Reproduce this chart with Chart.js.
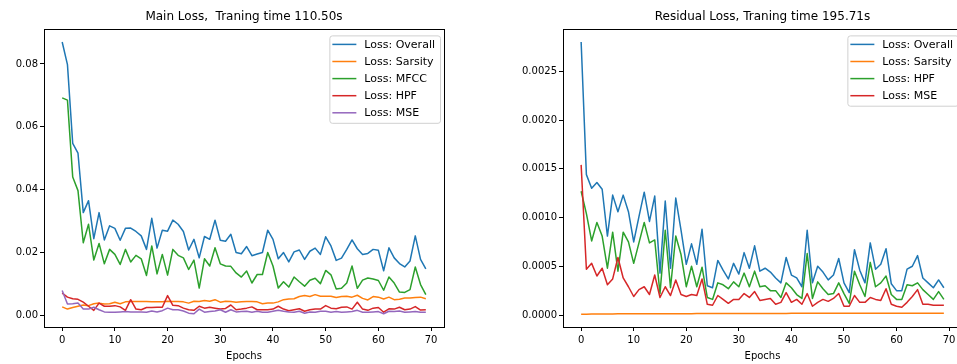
<!DOCTYPE html>
<html>
<head>
<meta charset="utf-8">
<script src="https://cdn.jsdelivr.net/npm/chart.js@4.4.1/dist/chart.umd.min.js"></script>
<style>
  html, body { margin: 0; padding: 0; background: #fff; overflow: hidden; }
  #wrap { position: relative; width: 957px; height: 364px; overflow: hidden; }
  canvas { position: absolute; top: 0; }
  #mainChart { left: 0; }
  #residualChart { left: 500px; }
</style>
</head>
<body>
<div id="wrap">
  <canvas id="mainChart" width="460" height="364"></canvas>
  <canvas id="residualChart" width="480" height="364"></canvas>
</div>
<script>
/* ---------- DATA ---------- */
const epochs = [0,1,2,3,4,5,6,7,8,9,10,11,12,13,14,15,16,17,18,19,20,21,22,23,24,25,26,27,28,29,
  30,31,32,33,34,35,36,37,38,39,40,41,42,43,44,45,46,47,48,49,50,51,52,53,54,55,56,57,58,59,
  60,61,62,63,64,65,66,67,68,69];
const xTicks = [0, 10, 20, 30, 40, 50, 60, 70];

// Main loss
const mainOverall = [0.0870,0.0798,0.0547,0.0516,0.0327,0.0365,0.0244,0.0327,0.0240,0.0285,
  0.0277,0.0239,0.0277,0.0278,0.0267,0.0253,0.0210,0.0309,0.0214,0.0271,
  0.0268,0.0303,0.0290,0.0267,0.0208,0.0242,0.0183,0.0251,0.0242,0.0303,
  0.0239,0.0236,0.0258,0.0200,0.0196,0.0219,0.0190,0.0195,0.0200,0.0271,
  0.0242,0.0180,0.0200,0.0170,0.0202,0.0208,0.0178,0.0204,0.0214,0.0194,
  0.0250,0.0221,0.0175,0.0182,0.0210,0.0240,0.0212,0.0194,0.0197,0.0210,
  0.0207,0.0142,0.0215,0.0183,0.0165,0.0154,0.0173,0.0253,0.0178,0.0148];
const mainSarsity = [0.0027,0.0020,0.0025,0.0029,0.0033,0.0031,0.0037,0.0039,0.0036,0.0037,
  0.0042,0.0037,0.0043,0.0044,0.0044,0.0044,0.0044,0.0043,0.0043,0.0043,
  0.0045,0.0044,0.0044,0.0043,0.0039,0.0045,0.0044,0.0047,0.0045,0.0050,
  0.0042,0.0045,0.0044,0.0042,0.0043,0.0044,0.0044,0.0043,0.0037,0.0039,
  0.0039,0.0043,0.0050,0.0052,0.0053,0.0060,0.0063,0.0060,0.0066,0.0061,
  0.0061,0.0061,0.0057,0.0060,0.0061,0.0058,0.0064,0.0054,0.0049,0.0060,
  0.0058,0.0052,0.0058,0.0050,0.0051,0.0055,0.0055,0.0057,0.0058,0.0053];
const mainMFCC = [0.0692,0.0685,0.0440,0.0397,0.0231,0.0290,0.0176,0.0229,0.0164,0.0210,
  0.0194,0.0162,0.0210,0.0170,0.0191,0.0180,0.0127,0.0221,0.0132,0.0194,
  0.0128,0.0210,0.0191,0.0183,0.0146,0.0176,0.0087,0.0180,0.0157,0.0215,
  0.0164,0.0157,0.0156,0.0135,0.0122,0.0141,0.0103,0.0130,0.0130,0.0200,
  0.0157,0.0087,0.0107,0.0090,0.0122,0.0107,0.0093,0.0112,0.0118,0.0101,
  0.0143,0.0129,0.0084,0.0086,0.0103,0.0157,0.0086,0.0112,0.0119,0.0116,
  0.0111,0.0080,0.0122,0.0103,0.0074,0.0073,0.0082,0.0154,0.0098,0.0066];
const mainHPF = [0.0071,0.0058,0.0053,0.0051,0.0042,0.0029,0.0016,0.0039,0.0029,0.0029,
  0.0031,0.0027,0.0016,0.0050,0.0020,0.0018,0.0025,0.0025,0.0026,0.0026,
  0.0063,0.0032,0.0031,0.0023,0.0018,0.0016,0.0029,0.0023,0.0026,0.0023,
  0.0020,0.0022,0.0033,0.0018,0.0020,0.0023,0.0027,0.0018,0.0018,0.0018,
  0.0020,0.0029,0.0020,0.0015,0.0018,0.0021,0.0013,0.0018,0.0020,0.0020,
  0.0031,0.0023,0.0021,0.0026,0.0027,0.0020,0.0042,0.0020,0.0016,0.0023,
  0.0025,0.0010,0.0021,0.0020,0.0026,0.0018,0.0020,0.0028,0.0017,0.0018];
const mainMSE = [0.0079,0.0036,0.0037,0.0039,0.0020,0.0020,0.0026,0.0018,0.0011,0.0010,
  0.0010,0.0011,0.0012,0.0011,0.0011,0.0011,0.0010,0.0014,0.0011,0.0015,
  0.0023,0.0018,0.0018,0.0014,0.0007,0.0005,0.0020,0.0010,0.0012,0.0014,
  0.0018,0.0010,0.0018,0.0011,0.0012,0.0013,0.0010,0.0013,0.0010,0.0010,
  0.0013,0.0016,0.0013,0.0011,0.0010,0.0013,0.0007,0.0011,0.0010,0.0013,
  0.0013,0.0010,0.0012,0.0010,0.0011,0.0012,0.0016,0.0010,0.0010,0.0011,
  0.0012,0.0005,0.0013,0.0012,0.0014,0.0010,0.0011,0.0012,0.0010,0.0010];
const mainYTicks = [0, 0.02, 0.04, 0.06, 0.08];

// Residual loss
const resOverall = [0.00280,0.00144,0.00130,0.00136,0.00129,0.00081,0.00123,0.00106,0.00123,0.00106,
  0.00075,0.00101,0.00126,0.00096,0.00122,0.00043,0.00117,0.00048,0.00120,0.00087,
  0.00052,0.00073,0.00052,0.00088,0.00030,0.00028,0.00056,0.00046,0.00037,0.00053,
  0.00042,0.00064,0.00048,0.00071,0.00045,0.00048,0.00044,0.00038,0.00033,0.00059,
  0.00041,0.00038,0.00029,0.00087,0.00033,0.00050,0.00044,0.00036,0.00041,0.00058,
  0.00033,0.00023,0.00067,0.00046,0.00033,0.00074,0.00047,0.00052,0.00068,0.00032,
  0.00025,0.00025,0.00047,0.00050,0.00061,0.00038,0.00033,0.00028,0.00036,0.00028];
const resSarsity = [0.000008,0.000009,0.000010,0.000010,0.000011,0.000011,0.000011,0.000012,0.000012,0.000012,
  0.000012,0.000013,0.000013,0.000013,0.000013,0.000013,0.000014,0.000014,0.000014,0.000014,
  0.000014,0.000014,0.000015,0.000015,0.000015,0.000015,0.000015,0.000015,0.000015,0.000015,
  0.000016,0.000016,0.000016,0.000016,0.000016,0.000016,0.000016,0.000016,0.000016,0.000016,
  0.000017,0.000017,0.000017,0.000017,0.000017,0.000017,0.000017,0.000017,0.000017,0.000017,
  0.000017,0.000018,0.000018,0.000018,0.000018,0.000018,0.000018,0.000018,0.000018,0.000018,
  0.000018,0.000018,0.000018,0.000018,0.000019,0.000019,0.000019,0.000019,0.000019,0.000019];
const resHPF = [0.00127,0.00104,0.00076,0.00095,0.00081,0.00048,0.00085,0.00045,0.00085,0.00075,
  0.00053,0.00074,0.00095,0.00074,0.00077,0.00022,0.00087,0.00028,0.00081,0.00062,
  0.00029,0.00050,0.00029,0.00049,0.00018,0.00016,0.00033,0.00031,0.00027,0.00034,
  0.00029,0.00043,0.00029,0.00045,0.00029,0.00030,0.00025,0.00025,0.00018,0.00033,
  0.00028,0.00021,0.00017,0.00063,0.00017,0.00034,0.00027,0.00021,0.00022,0.00033,
  0.00022,0.00012,0.00045,0.00031,0.00019,0.00054,0.00029,0.00033,0.00040,0.00021,
  0.00016,0.00016,0.00031,0.00030,0.00033,0.00026,0.00021,0.00016,0.00024,0.00016];
const resMSE = [0.00154,0.00047,0.00053,0.00040,0.00048,0.00031,0.00037,0.00059,0.00038,0.00029,
  0.00019,0.00026,0.00029,0.00021,0.00041,0.00018,0.00029,0.00020,0.00036,0.00021,
  0.00019,0.00021,0.00020,0.00037,0.00011,0.00010,0.00020,0.00016,0.00012,0.00016,
  0.00016,0.00022,0.00018,0.00024,0.00015,0.00016,0.00017,0.00011,0.00013,0.00023,
  0.00013,0.00016,0.00011,0.00022,0.00009,0.00013,0.00016,0.00014,0.00017,0.00022,
  0.00009,0.00009,0.00020,0.00013,0.00013,0.00018,0.00016,0.00015,0.00027,0.00011,
  0.00009,0.00008,0.00013,0.00019,0.00026,0.00011,0.00011,0.00010,0.00010,0.00010];
const resYTicks = [0, 0.0005, 0.0010, 0.0015, 0.0020, 0.0025];

/* ---------- STYLE ---------- */
const FONT = "'DejaVu Sans', sans-serif";
const C = { blue: "#1f77b4", orange: "#ff7f0e", green: "#2ca02c", red: "#d62728", purple: "#9467bd" };

/* ---------- PLUGINS ---------- */
const framePlugin = {
  id: "frame",
  afterDraw(chart) {
    const a = chart.chartArea, ctx = chart.ctx;
    ctx.save();
    ctx.strokeStyle = "#000";
    ctx.lineWidth = 1;
    ctx.strokeRect(Math.round(a.left) + 0.5, Math.round(a.top) + 0.5,
      Math.round(a.right - a.left), Math.round(a.bottom - a.top));
    ctx.restore();
  }
};

const boxLegend = {
  id: "boxLegend",
  afterDraw(chart) {
    const a = chart.chartArea, ctx = chart.ctx;
    const sets = chart.data.datasets;
    ctx.save();
    ctx.font = "11px " + FONT;
    let maxW = 0;
    sets.forEach(d => { maxW = Math.max(maxW, ctx.measureText(d.label).width); });
    const w = 35 + maxW + 5;
    const h = 19 + (sets.length - 1) * 17.1;
    const x = a.right - 4 - w, y = a.top + 6;
    ctx.beginPath();
    ctx.roundRect(x + 0.5, y + 0.5, w, h, 2.5);
    ctx.fillStyle = "rgba(255,255,255,0.8)";
    ctx.fill();
    ctx.strokeStyle = "#d0d0d0";
    ctx.lineWidth = 1;
    ctx.stroke();
    sets.forEach((d, i) => {
      const ry = y + 9 + i * 17.1;
      ctx.strokeStyle = d.borderColor;
      ctx.lineWidth = 1.5;
      ctx.beginPath();
      ctx.moveTo(x + 3, ry);
      ctx.lineTo(x + 27, ry);
      ctx.stroke();
      ctx.fillStyle = "#000";
      ctx.textBaseline = "middle";
      ctx.fillText(d.label, x + 35, ry + 0.5);
    });
    ctx.restore();
  }
};

/* ---------- CHARTS ---------- */
function makeChart(id, title, series, yTicks, yMin, yMax, yWidth, digits, padRight) {
  return new Chart(document.getElementById(id), {
    type: "line",
    data: {
      datasets: series.map((s, i) => ({
        label: s.label,
        data: epochs.map((e, k) => ({ x: e, y: s.data[k] })),
        borderColor: s.color,
        borderWidth: 1.5,
        pointRadius: 0,
        tension: 0,
        borderJoinStyle: "round",
        order: series.length - i
      }))
    },
    options: {
      responsive: false,
      animation: false,
      devicePixelRatio: 1,
      layout: { padding: { left: 0, right: padRight, top: 0, bottom: 0 } },
      plugins: {
        legend: { display: false },
        tooltip: { enabled: false },
        title: {
          display: true,
          text: title,
          fullSize: false,
          color: "#000",
          font: { family: FONT, size: 12, weight: "normal", lineHeight: 1.2 },
          padding: { top: 10, bottom: 5 }
        }
      },
      scales: {
        x: {
          type: "linear",
          min: -3.45,
          max: 72.45,
          afterBuildTicks: sc => { sc.ticks = xTicks.map(v => ({ value: v })); },
          afterFit: sc => { sc.height = 37; },
          grid: { display: true, drawOnChartArea: false, drawTicks: true, tickLength: 4, color: "#000" },
          border: { display: false },
          ticks: { color: "#000", font: { family: FONT, size: 10 }, padding: 3, maxRotation: 0, autoSkip: false },
          title: { display: true, text: "Epochs", color: "#000", font: { family: FONT, size: 10 }, padding: { top: 0, bottom: 2 } }
        },
        y: {
          min: yMin,
          max: yMax,
          afterBuildTicks: sc => { sc.ticks = yTicks.map(v => ({ value: v })); },
          afterFit: sc => { sc.width = yWidth; },
          grid: { display: true, drawOnChartArea: false, drawTicks: true, tickLength: 4, color: "#000" },
          border: { display: false },
          ticks: { color: "#000", font: { family: FONT, size: 10 }, padding: 2,
            callback: v => Number(v).toFixed(digits) }
        }
      }
    },
    plugins: [framePlugin, boxLegend]
  });
}

makeChart("mainChart", "Main Loss,  Traning time 110.50s", [
  { label: "Loss: Overall", data: mainOverall, color: C.blue },
  { label: "Loss: Sarsity", data: mainSarsity, color: C.orange },
  { label: "Loss: MFCC", data: mainMFCC, color: C.green },
  { label: "Loss: HPF", data: mainHPF, color: C.red },
  { label: "Loss: MSE", data: mainMSE, color: C.purple }
], mainYTicks, -0.0037, 0.0910, 44, 2, 16);

makeChart("residualChart", "Residual Loss, Traning time 195.71s", [
  { label: "Loss: Overall", data: resOverall, color: C.blue },
  { label: "Loss: Sarsity", data: resSarsity, color: C.orange },
  { label: "Loss: HPF", data: resHPF, color: C.green },
  { label: "Loss: MSE", data: resMSE, color: C.red }
], resYTicks, -0.000123, 0.00293, 63, 4, 18);
</script>
</body>
</html>
